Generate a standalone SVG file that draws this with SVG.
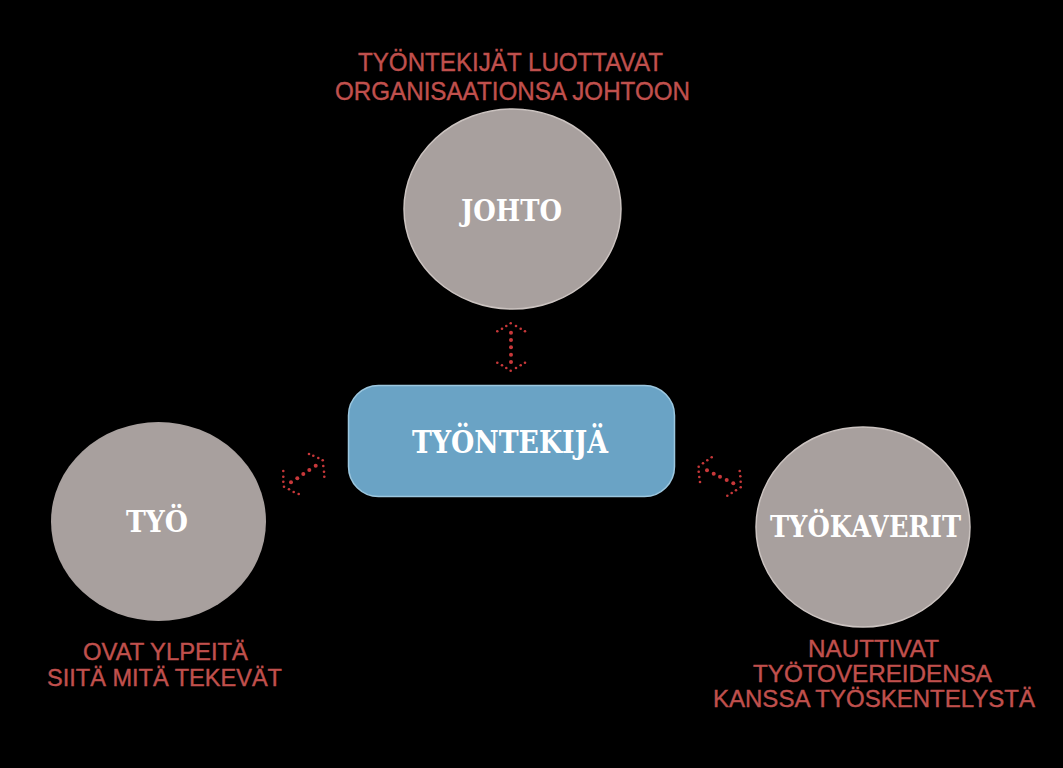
<svg xmlns="http://www.w3.org/2000/svg" width="1063" height="768" viewBox="0 0 1063 768">
<style>
.bg{fill:#000}
.circ{fill:#a8a09e}
.circb{fill:#a8a09e;stroke:#cbc3c0;stroke-width:1.5}
.box{fill:#6aa3c5;stroke:#9cc7df;stroke-width:1.5}
.lbl{font-family:"DejaVu Serif","Liberation Serif",serif;font-weight:bold;fill:#ffffff;text-anchor:middle}
.cap{font-family:"Liberation Sans",Arial,sans-serif;fill:#c0504d;stroke:#c0504d;stroke-width:0.4;text-anchor:middle}
.d{fill:#c8383a}
</style>
<rect class="bg" x="0" y="0" width="1063" height="768"/>

<g id="connectors">
  <g id="conn-johto">
    <circle class="d" cx="497.3" cy="331.3" r="1.3"/><circle class="d" cx="502" cy="328.7" r="1.3"/><circle class="d" cx="506.3" cy="326" r="1.3"/><circle class="d" cx="510.7" cy="323.3" r="1.3"/><circle class="d" cx="516" cy="326" r="1.3"/><circle class="d" cx="520.7" cy="328.7" r="1.3"/><circle class="d" cx="525" cy="331.3" r="1.3"/>
    <circle class="d" cx="511" cy="332.7" r="2"/><circle class="d" cx="511" cy="340" r="2"/><circle class="d" cx="511" cy="347.3" r="2"/><circle class="d" cx="511" cy="354.7" r="2"/><circle class="d" cx="511" cy="362" r="2"/>
    <circle class="d" cx="497.3" cy="362.7" r="1.3"/><circle class="d" cx="502" cy="365.3" r="1.3"/><circle class="d" cx="506.3" cy="368" r="1.3"/><circle class="d" cx="510.7" cy="370.7" r="1.3"/><circle class="d" cx="516" cy="368" r="1.3"/><circle class="d" cx="520.7" cy="365.3" r="1.3"/><circle class="d" cx="525" cy="362.7" r="1.3"/>
  </g>
  <g id="conn-tyo">
    <circle class="d" cx="309" cy="454" r="1.3"/><circle class="d" cx="313.3" cy="455.7" r="1.3"/><circle class="d" cx="318.3" cy="458" r="1.3"/><circle class="d" cx="322.7" cy="460.3" r="1.3"/><circle class="d" cx="323.3" cy="466" r="1.3"/><circle class="d" cx="324" cy="471.7" r="1.3"/><circle class="d" cx="324.3" cy="476.7" r="1.3"/>
    <circle class="d" cx="315.7" cy="465.7" r="2"/><circle class="d" cx="309.3" cy="470" r="2"/><circle class="d" cx="303.3" cy="474" r="2"/><circle class="d" cx="297.3" cy="478.3" r="2"/><circle class="d" cx="291" cy="482.3" r="2"/>
    <circle class="d" cx="283.3" cy="471" r="1.3"/><circle class="d" cx="283.3" cy="476.7" r="1.3"/><circle class="d" cx="283.3" cy="481.7" r="1.3"/><circle class="d" cx="284" cy="486.7" r="1.3"/><circle class="d" cx="289" cy="489.3" r="1.3"/><circle class="d" cx="293.7" cy="492" r="1.3"/><circle class="d" cx="298.7" cy="494" r="1.3"/>
  </g>
  <g id="conn-tyokaverit">
    <circle class="d" cx="711.7" cy="457.3" r="1.3"/><circle class="d" cx="707.3" cy="460.3" r="1.3"/><circle class="d" cx="703" cy="463.3" r="1.3"/><circle class="d" cx="698.7" cy="466.7" r="1.3"/><circle class="d" cx="698.7" cy="471.7" r="1.3"/><circle class="d" cx="699.3" cy="477" r="1.3"/><circle class="d" cx="700" cy="482" r="1.3"/>
    <circle class="d" cx="707" cy="470.3" r="2"/><circle class="d" cx="713.7" cy="473.7" r="2"/><circle class="d" cx="720" cy="476.7" r="2"/><circle class="d" cx="726.7" cy="480" r="2"/><circle class="d" cx="733.3" cy="483.3" r="2"/>
    <circle class="d" cx="739.7" cy="471" r="1.3"/><circle class="d" cx="740.3" cy="476.3" r="1.3"/><circle class="d" cx="740.7" cy="481.7" r="1.3"/><circle class="d" cx="740.7" cy="487.3" r="1.3"/><circle class="d" cx="736" cy="490.3" r="1.3"/><circle class="d" cx="731.7" cy="493" r="1.3"/><circle class="d" cx="727.3" cy="495.7" r="1.3"/>
  </g>
</g>

<g id="node-johto">
  <ellipse class="circb" cx="512.5" cy="209" rx="108.5" ry="100"/>
  <text class="lbl" x="511.5" y="221" font-size="30" textLength="101" lengthAdjust="spacingAndGlyphs">JOHTO</text>
  <text class="cap" x="510.5" y="71" font-size="26" textLength="305" lengthAdjust="spacingAndGlyphs">TYÖNTEKIJÄT LUOTTAVAT</text>
  <text class="cap" x="512.5" y="100" font-size="26" textLength="355" lengthAdjust="spacingAndGlyphs">ORGANISAATIONSA JOHTOON</text>
</g>

<g id="node-tyontekija">
  <rect class="box" x="348.5" y="385.5" width="326" height="111" rx="30" ry="30"/>
  <text class="lbl" x="510" y="452.5" font-size="31" textLength="196" lengthAdjust="spacingAndGlyphs">TYÖNTEKIJÄ</text>
</g>

<g id="node-tyo">
  <ellipse class="circ" cx="158.5" cy="521.5" rx="107.5" ry="99.5"/>
  <text class="lbl" x="157" y="532" font-size="30" textLength="62" lengthAdjust="spacingAndGlyphs">TYÖ</text>
  <text class="cap" x="165.5" y="660" font-size="23" textLength="165" lengthAdjust="spacingAndGlyphs">OVAT YLPEITÄ</text>
  <text class="cap" x="164.5" y="686" font-size="23" textLength="235" lengthAdjust="spacingAndGlyphs">SIITÄ MITÄ TEKEVÄT</text>
</g>

<g id="node-tyokaverit">
  <ellipse class="circb" cx="863" cy="527" rx="107" ry="100"/>
  <text class="lbl" x="865.5" y="537" font-size="30" textLength="191" lengthAdjust="spacingAndGlyphs">TYÖKAVERIT</text>
  <text class="cap" x="873.5" y="657" font-size="23" textLength="131" lengthAdjust="spacingAndGlyphs">NAUTTIVAT</text>
  <text class="cap" x="872.5" y="682" font-size="23" textLength="239" lengthAdjust="spacingAndGlyphs">TYÖTOVEREIDENSA</text>
  <text class="cap" x="874" y="707" font-size="23" textLength="322" lengthAdjust="spacingAndGlyphs">KANSSA TYÖSKENTELYSTÄ</text>
</g>
</svg>
